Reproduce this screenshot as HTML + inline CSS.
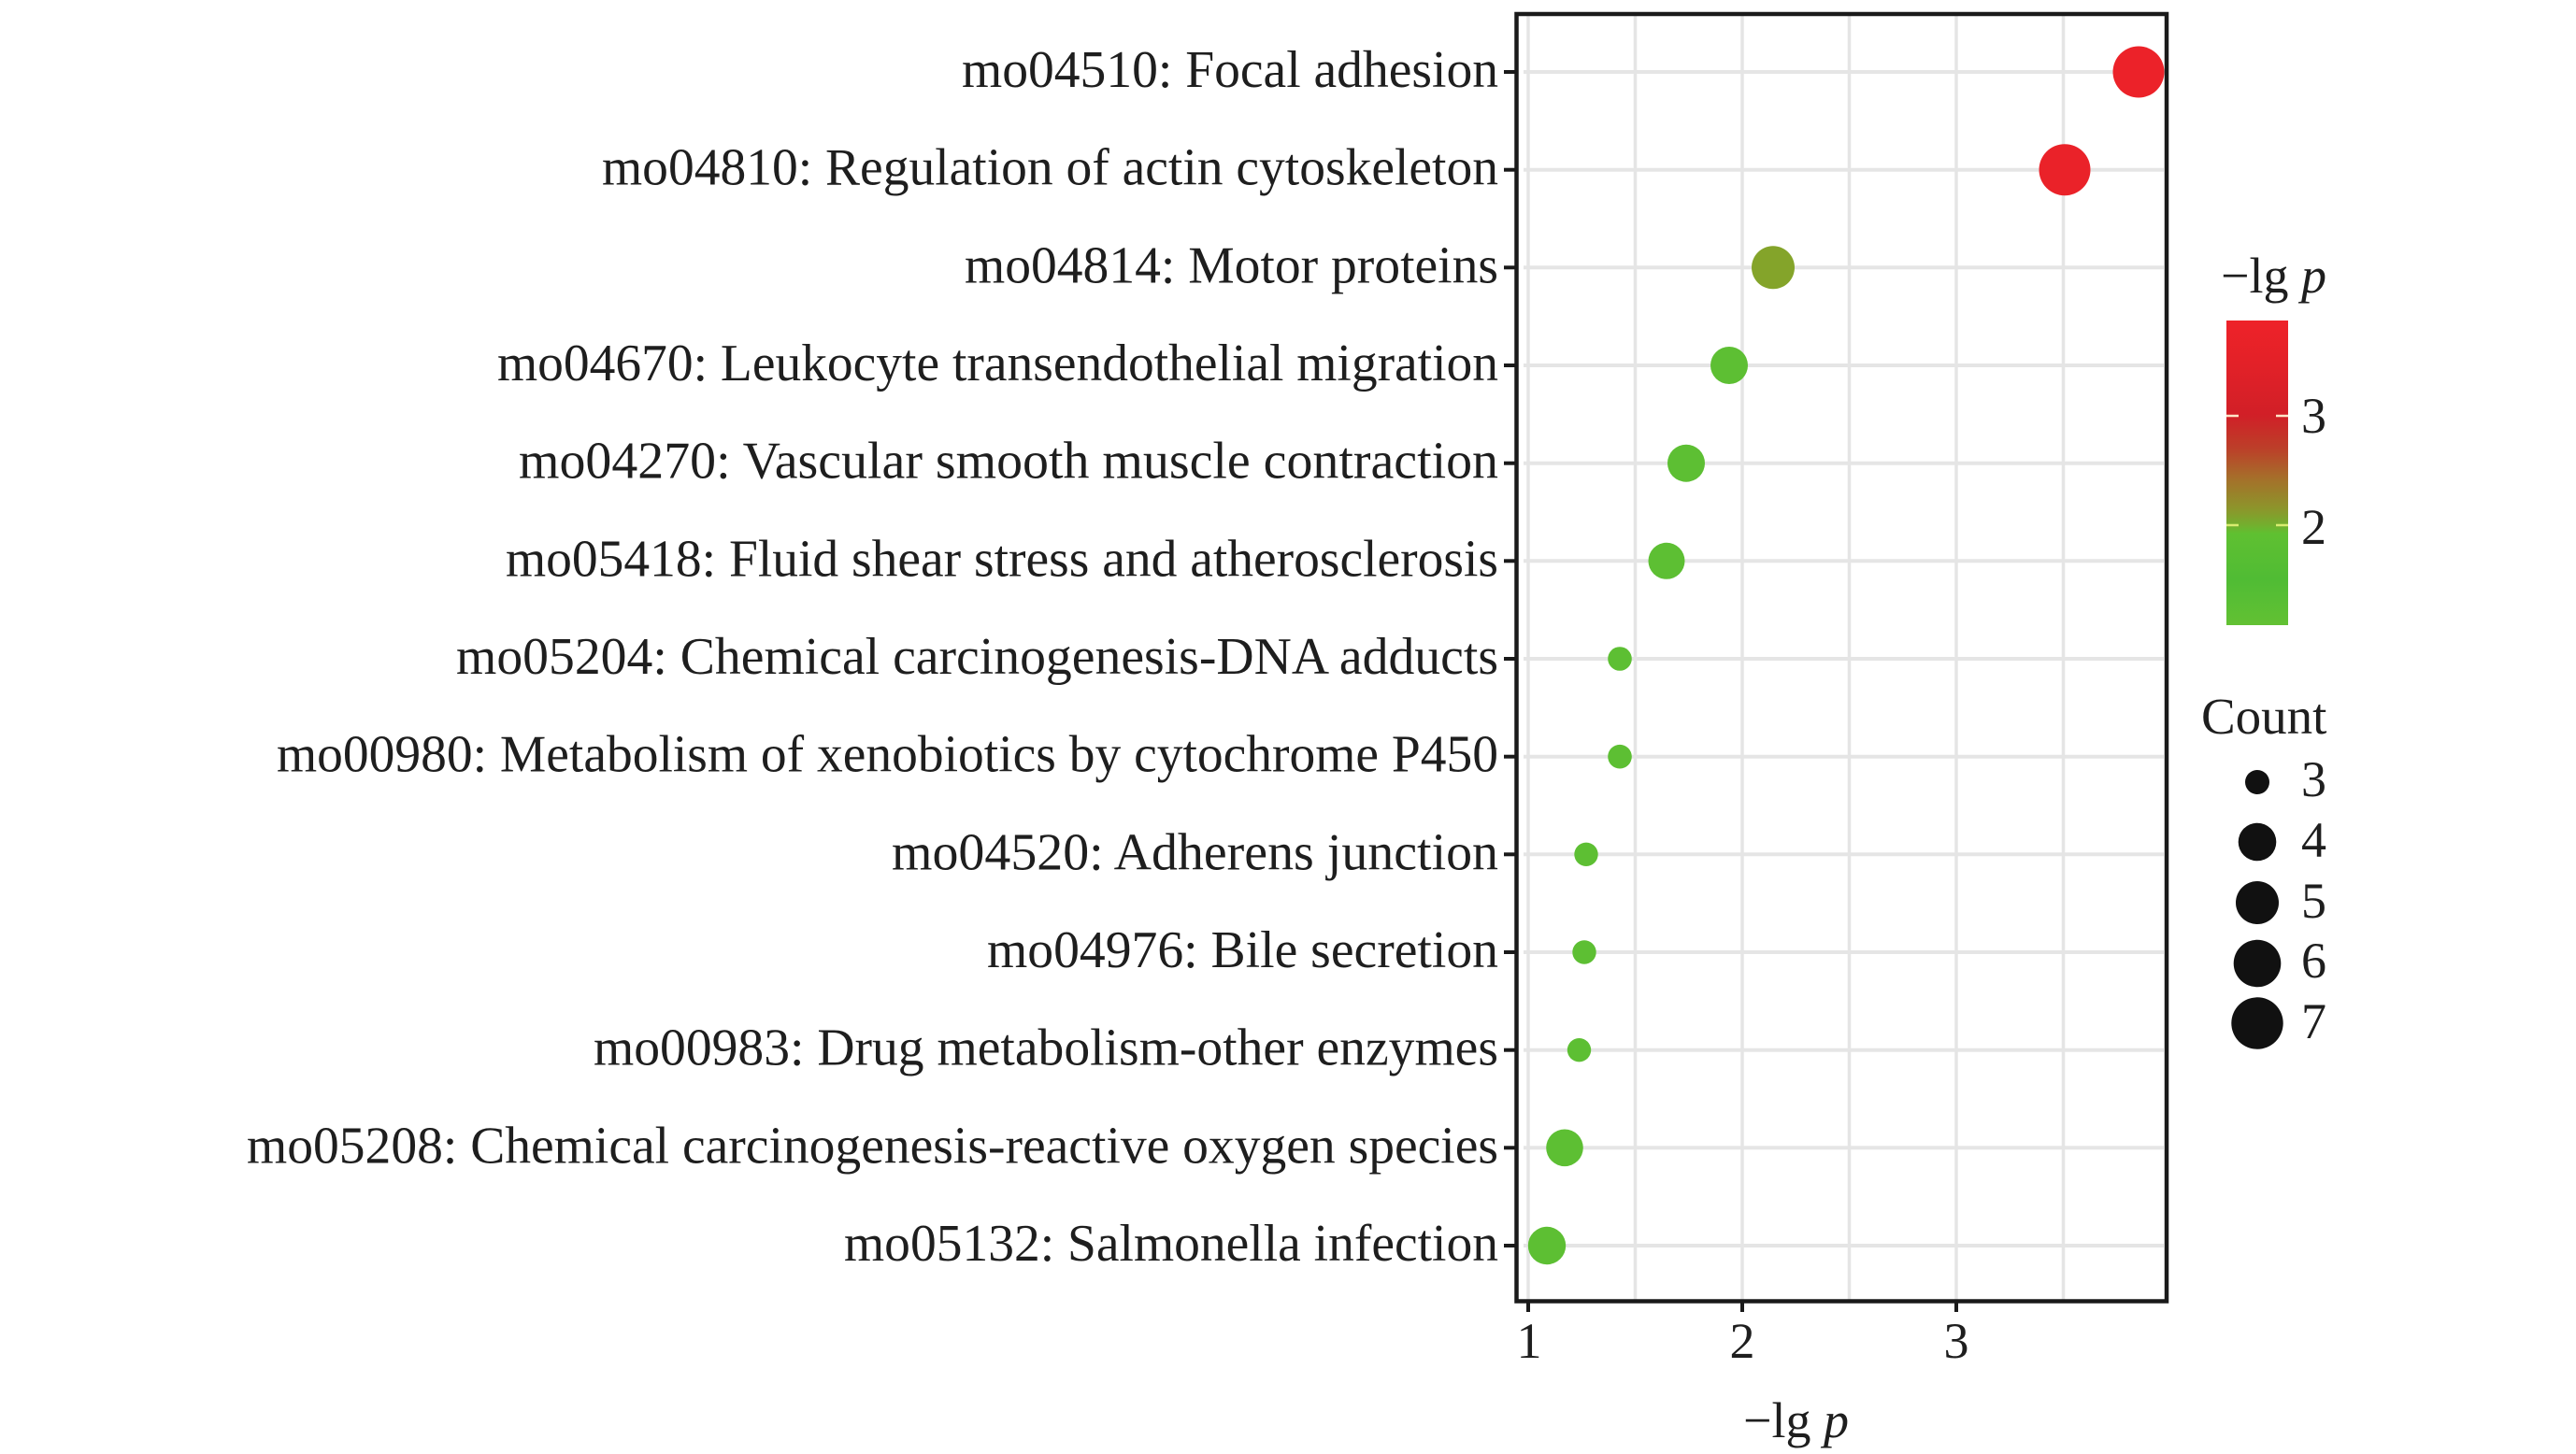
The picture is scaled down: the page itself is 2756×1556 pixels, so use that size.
<!DOCTYPE html>
<html>
<head>
<meta charset="utf-8">
<style>
  html, body { margin: 0; padding: 0; background: #ffffff; }
  svg { display: block; }
  text { font-family: "Liberation Serif", "Times New Roman", serif; fill: #1e1e1e; }
</style>
</head>
<body>
<svg width="2756" height="1556" viewBox="0 0 2756 1556" xmlns="http://www.w3.org/2000/svg">
  <defs>
    <linearGradient id="cbar" x1="0" y1="0" x2="0" y2="1">
      <stop offset="0" stop-color="#EE2229"/>
      <stop offset="0.15" stop-color="#E22128"/>
      <stop offset="0.31" stop-color="#D11F27"/>
      <stop offset="0.42" stop-color="#BC3F29"/>
      <stop offset="0.52" stop-color="#A5702A"/>
      <stop offset="0.62" stop-color="#8C962B"/>
      <stop offset="0.67" stop-color="#74AE2E"/>
      <stop offset="0.70" stop-color="#5FC031"/>
      <stop offset="0.85" stop-color="#50BC34"/>
      <stop offset="1" stop-color="#62C133"/>
    </linearGradient>
  </defs>
  <rect x="0" y="0" width="2756" height="1556" fill="#ffffff"/>

  <!-- vertical gridlines -->
  <g stroke="#E5E5E5" stroke-width="3.5">
    <line x1="1635" y1="17" x2="1635" y2="1391"/>
    <line x1="1749.5" y1="17" x2="1749.5" y2="1391"/>
    <line x1="1864" y1="17" x2="1864" y2="1391"/>
    <line x1="1978.5" y1="17" x2="1978.5" y2="1391"/>
    <line x1="2093" y1="17" x2="2093" y2="1391"/>
    <line x1="2207.5" y1="17" x2="2207.5" y2="1391"/>
  </g>
  <!-- horizontal gridlines -->
  <g stroke="#E5E5E5" stroke-width="4">
    <line x1="1630" y1="77" x2="2315" y2="77"/>
    <line x1="1630" y1="181.7" x2="2315" y2="181.7"/>
    <line x1="1630" y1="286.3" x2="2315" y2="286.3"/>
    <line x1="1630" y1="391" x2="2315" y2="391"/>
    <line x1="1630" y1="495.7" x2="2315" y2="495.7"/>
    <line x1="1630" y1="600.3" x2="2315" y2="600.3"/>
    <line x1="1630" y1="705" x2="2315" y2="705"/>
    <line x1="1630" y1="809.7" x2="2315" y2="809.7"/>
    <line x1="1630" y1="914.3" x2="2315" y2="914.3"/>
    <line x1="1630" y1="1019" x2="2315" y2="1019"/>
    <line x1="1630" y1="1123.7" x2="2315" y2="1123.7"/>
    <line x1="1630" y1="1228.3" x2="2315" y2="1228.3"/>
    <line x1="1630" y1="1333" x2="2315" y2="1333"/>
  </g>

  <!-- data points -->
  <g>
    <circle cx="2288" cy="77" r="27.5" fill="#EC2229"/>
    <circle cx="2209" cy="181.7" r="27.5" fill="#EA2229"/>
    <circle cx="1897" cy="286.3" r="23" fill="#84A42A"/>
    <circle cx="1850" cy="391" r="20" fill="#5DBF33"/>
    <circle cx="1804" cy="495.7" r="20" fill="#5DBF33"/>
    <circle cx="1783" cy="600.3" r="19.5" fill="#5DBF33"/>
    <circle cx="1733" cy="705" r="12.8" fill="#5DBF33"/>
    <circle cx="1733" cy="809.7" r="12.8" fill="#5DBF33"/>
    <circle cx="1697" cy="914.3" r="12.7" fill="#5DBF33"/>
    <circle cx="1695" cy="1019" r="12.7" fill="#5DBF33"/>
    <circle cx="1689.5" cy="1123.7" r="12.7" fill="#5DBF33"/>
    <circle cx="1674" cy="1228.3" r="19.8" fill="#5DBF33"/>
    <circle cx="1655" cy="1333" r="20.2" fill="#5DBF33"/>
  </g>

  <!-- panel border -->
  <rect x="1622.5" y="15" width="695.5" height="1377.5" fill="none" stroke="#1a1a1a" stroke-width="4.5"/>

  <!-- y ticks -->
  <g stroke="#1a1a1a" stroke-width="4">
    <line x1="1609" y1="77" x2="1622" y2="77"/>
    <line x1="1609" y1="181.7" x2="1622" y2="181.7"/>
    <line x1="1609" y1="286.3" x2="1622" y2="286.3"/>
    <line x1="1609" y1="391" x2="1622" y2="391"/>
    <line x1="1609" y1="495.7" x2="1622" y2="495.7"/>
    <line x1="1609" y1="600.3" x2="1622" y2="600.3"/>
    <line x1="1609" y1="705" x2="1622" y2="705"/>
    <line x1="1609" y1="809.7" x2="1622" y2="809.7"/>
    <line x1="1609" y1="914.3" x2="1622" y2="914.3"/>
    <line x1="1609" y1="1019" x2="1622" y2="1019"/>
    <line x1="1609" y1="1123.7" x2="1622" y2="1123.7"/>
    <line x1="1609" y1="1228.3" x2="1622" y2="1228.3"/>
    <line x1="1609" y1="1333" x2="1622" y2="1333"/>
  </g>
  <!-- x ticks -->
  <g stroke="#1a1a1a" stroke-width="4">
    <line x1="1635" y1="1393" x2="1635" y2="1404"/>
    <line x1="1864" y1="1393" x2="1864" y2="1404"/>
    <line x1="2093" y1="1393" x2="2093" y2="1404"/>
  </g>

  <!-- y labels -->
  <g font-size="56" text-anchor="end">
    <text x="1603" y="93" textLength="574" lengthAdjust="spacingAndGlyphs">mo04510: Focal adhesion</text>
    <text x="1603" y="197.7" textLength="959" lengthAdjust="spacingAndGlyphs">mo04810: Regulation of actin cytoskeleton</text>
    <text x="1603" y="302.3" textLength="571" lengthAdjust="spacingAndGlyphs">mo04814: Motor proteins</text>
    <text x="1603" y="407" textLength="1071" lengthAdjust="spacingAndGlyphs">mo04670: Leukocyte transendothelial migration</text>
    <text x="1603" y="511.7" textLength="1048" lengthAdjust="spacingAndGlyphs">mo04270: Vascular smooth muscle contraction</text>
    <text x="1603" y="616.3" textLength="1062" lengthAdjust="spacingAndGlyphs">mo05418: Fluid shear stress and atherosclerosis</text>
    <text x="1603" y="721" textLength="1115" lengthAdjust="spacingAndGlyphs">mo05204: Chemical carcinogenesis-DNA adducts</text>
    <text x="1603" y="825.7" textLength="1307" lengthAdjust="spacingAndGlyphs">mo00980: Metabolism of xenobiotics by cytochrome P450</text>
    <text x="1603" y="930.3" textLength="649" lengthAdjust="spacingAndGlyphs">mo04520: Adherens junction</text>
    <text x="1603" y="1035" textLength="547" lengthAdjust="spacingAndGlyphs">mo04976: Bile secretion</text>
    <text x="1603" y="1139.7" textLength="968" lengthAdjust="spacingAndGlyphs">mo00983: Drug metabolism-other enzymes</text>
    <text x="1603" y="1244.3" textLength="1339" lengthAdjust="spacingAndGlyphs">mo05208: Chemical carcinogenesis-reactive oxygen species</text>
    <text x="1603" y="1349" textLength="700" lengthAdjust="spacingAndGlyphs">mo05132: Salmonella infection</text>
  </g>

  <!-- x tick labels -->
  <g font-size="54" text-anchor="middle">
    <text x="1636" y="1453">1</text>
    <text x="1864" y="1453">2</text>
    <text x="2093" y="1453">3</text>
  </g>

  <!-- x axis title -->
  <text x="1865" y="1538" font-size="54">−lg <tspan font-style="italic">p</tspan></text>

  <!-- color legend -->
  <text x="2376" y="313" font-size="54">−lg <tspan font-style="italic">p</tspan></text>
  <rect x="2382" y="343" width="66" height="326" fill="url(#cbar)"/>
  <g stroke-width="2.5">
    <line x1="2382" y1="445" x2="2395" y2="445" stroke="#FFE6C8"/>
    <line x1="2435" y1="445" x2="2448" y2="445" stroke="#FFE6C8"/>
    <line x1="2382" y1="562" x2="2395" y2="562" stroke="#D8EC70"/>
    <line x1="2435" y1="562" x2="2448" y2="562" stroke="#D8EC70"/>
  </g>
  <g font-size="54">
    <text x="2462" y="463">3</text>
    <text x="2462" y="582">2</text>
  </g>

  <!-- size legend -->
  <text x="2355" y="785" font-size="55">Count</text>
  <g fill="#111111">
    <circle cx="2415" cy="837" r="13"/>
    <circle cx="2415" cy="901" r="20.3"/>
    <circle cx="2415" cy="966" r="23"/>
    <circle cx="2415" cy="1031" r="25.3"/>
    <circle cx="2415" cy="1095" r="27.7"/>
  </g>
  <g font-size="54">
    <text x="2462" y="852">3</text>
    <text x="2462" y="917">4</text>
    <text x="2462" y="982">5</text>
    <text x="2462" y="1046">6</text>
    <text x="2462" y="1111">7</text>
  </g>
</svg>
</body>
</html>
